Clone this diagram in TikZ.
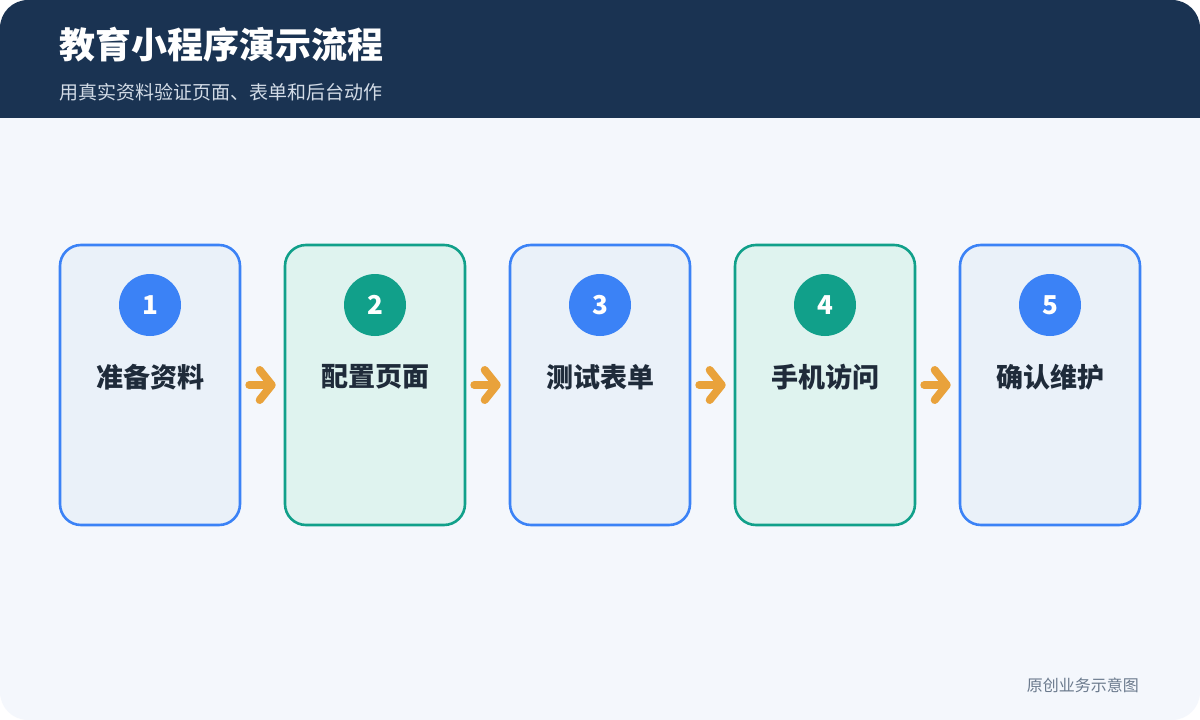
\documentclass[tikz,border=0pt]{standalone}
\usepackage{fontspec}
\setmainfont{Noto Sans CJK SC}
\usetikzlibrary{arrows.meta}
\definecolor{hdr}{HTML}{1A3352}
\definecolor{bgc}{HTML}{F4F7FC}
\definecolor{blueS}{HTML}{3B82F6}
\definecolor{blueF}{HTML}{EAF1F9}
\definecolor{greenS}{HTML}{11A08A}
\definecolor{greenF}{HTML}{DFF3EF}
\definecolor{orng}{HTML}{E9A23B}
\definecolor{txt}{HTML}{1F2B3A}
\definecolor{subt}{HTML}{D3DCE7}
\definecolor{foot}{HTML}{6B7A8D}
\tikzset{
  stepbox/.style={draw, line width=2.6pt, rounded corners=21pt, minimum width=180pt, minimum height=280pt, inner sep=0pt},
  bluebox/.style={stepbox, draw=blueS, fill=blueF},
  greenbox/.style={stepbox, draw=greenS, fill=greenF},
  numc/.style={circle, minimum size=62pt, inner sep=0pt, text=white, font=\bfseries\fontsize{26}{26}\selectfont},
  lbl/.style={text=txt, font=\bfseries\fontsize{27}{27}\selectfont, inner sep=0pt},
  flow/.style={draw=orng, line width=8pt, line cap=round, line join=round, shorten <=8pt, shorten >=8pt,
    -{Straight Barb[length=12pt, width=30pt, line cap=round, line join=round]}}
}
\begin{document}
\begin{tikzpicture}[x=1pt,y=-1pt]
\useasboundingbox (0,0) rectangle (1200,720);
\fill[white] (0,0) rectangle (1200,720);
\begin{scope}
\clip[rounded corners=28pt] (0,0) rectangle (1200,720);
\fill[bgc] (0,0) rectangle (1200,720);
\fill[hdr] (0,0) rectangle (1200,118);
\end{scope}
\node[anchor=west, text=white, inner sep=0pt, font=\bfseries\fontsize{36}{36}\selectfont] (title) at (59,45) {教育小程序演示流程};
\node[anchor=west, text=subt, inner sep=0pt, font=\fontsize{19}{19}\selectfont] (sub) at (59,92) {用真实资料验证页面、表单和后台动作};
\node[anchor=east, text=foot, inner sep=0pt, font=\fontsize{16}{16}\selectfont] (foot) at (1139,685) {原创业务示意图};

\node[bluebox]  (b1) at (150,385) {};
\node[greenbox] (b2) at (375,385) {};
\node[bluebox]  (b3) at (600,385) {};
\node[greenbox] (b4) at (825,385) {};
\node[bluebox]  (b5) at (1050,385) {};

\node[numc, fill=blueS]  (c1) at (150,305) {1};
\node[numc, fill=greenS] (c2) at (375,305) {2};
\node[numc, fill=blueS]  (c3) at (600,305) {3};
\node[numc, fill=greenS] (c4) at (825,305) {4};
\node[numc, fill=blueS]  (c5) at (1050,305) {5};

\node[lbl] (l1) at (150,377) {准备资料};
\node[lbl] (l2) at (375,377) {配置页面};
\node[lbl] (l3) at (600,377) {测试表单};
\node[lbl] (l4) at (825,377) {手机访问};
\node[lbl] (l5) at (1050,377) {确认维护};

\draw[flow] (b1) -- (b2);
\draw[flow] (b2) -- (b3);
\draw[flow] (b3) -- (b4);
\draw[flow] (b4) -- (b5);
\end{tikzpicture}
\end{document}
